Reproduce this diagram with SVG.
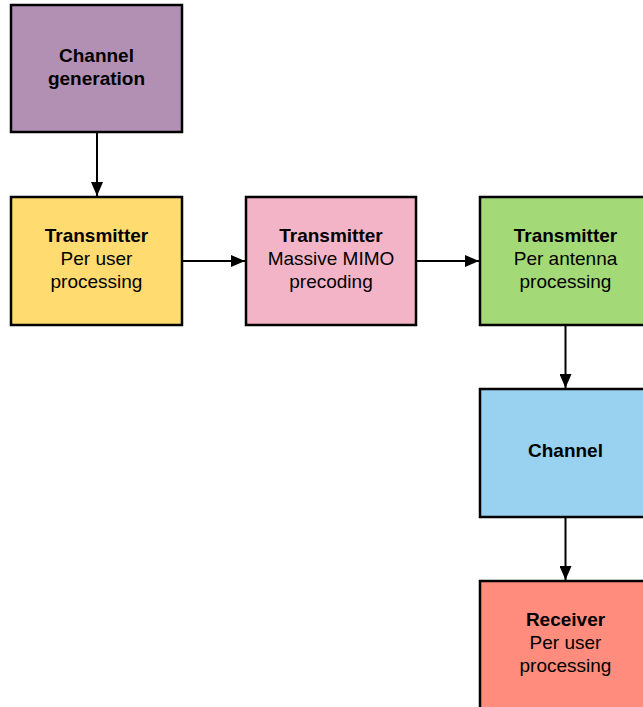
<svg xmlns="http://www.w3.org/2000/svg" width="643" height="707" viewBox="0 0 643 707">
<style>
.box{stroke:#000;stroke-width:2.5}
text{font-family:"Liberation Sans",Arial,sans-serif;font-size:19px;fill:#000;text-anchor:middle}
.b{font-weight:bold}
.edge{stroke:#000;stroke-width:2;fill:none;marker-end:url(#ah)}
</style>
<defs>
<marker id="ah" markerWidth="14" markerHeight="12" refX="14" refY="6" orient="auto" markerUnits="userSpaceOnUse">
<path d="M0,0 L14,6 L0,12 Z" fill="#000"/>
</marker>
</defs>
<rect width="643" height="707" fill="#fff"/>
<g id="edges">
<line class="edge" x1="97" y1="133" x2="97" y2="196"/>
<line class="edge" x1="183" y1="261" x2="245" y2="261"/>
<line class="edge" x1="417" y1="261" x2="479" y2="261"/>
<line class="edge" x1="565.5" y1="326" x2="565.5" y2="388"/>
<line class="edge" x1="565.5" y1="518" x2="565.5" y2="580"/>
</g>
<g id="channel-generation">
<rect class="box" x="11" y="5" width="171" height="127" fill="#b290b4"/>
<text x="96.5" y="62" class="b">Channel</text>
<text x="96.5" y="85" class="b">generation</text>
</g>
<g id="tx-user">
<rect class="box" x="11" y="197" width="171" height="128" fill="#ffdb70"/>
<text x="96.5" y="242" class="b">Transmitter</text>
<text x="96.5" y="265">Per user</text>
<text x="96.5" y="288">processing</text>
</g>
<g id="tx-mimo">
<rect class="box" x="246" y="197" width="170" height="128" fill="#f4b4c8"/>
<text x="331" y="242" class="b">Transmitter</text>
<text x="331" y="265">Massive MIMO</text>
<text x="331" y="288">precoding</text>
</g>
<g id="tx-antenna">
<rect class="box" x="480" y="197" width="171" height="128" fill="#a3d977"/>
<text x="565.5" y="242" class="b">Transmitter</text>
<text x="565.5" y="265">Per antenna</text>
<text x="565.5" y="288">processing</text>
</g>
<g id="channel">
<rect class="box" x="480" y="389" width="171" height="128" fill="#99d1f1"/>
<text x="565.5" y="457" class="b">Channel</text>
</g>
<g id="receiver">
<rect class="box" x="480" y="581" width="171" height="128" fill="#ff8c7c"/>
<text x="565.5" y="626" class="b">Receiver</text>
<text x="565.5" y="649">Per user</text>
<text x="565.5" y="672">processing</text>
</g>
</svg>
